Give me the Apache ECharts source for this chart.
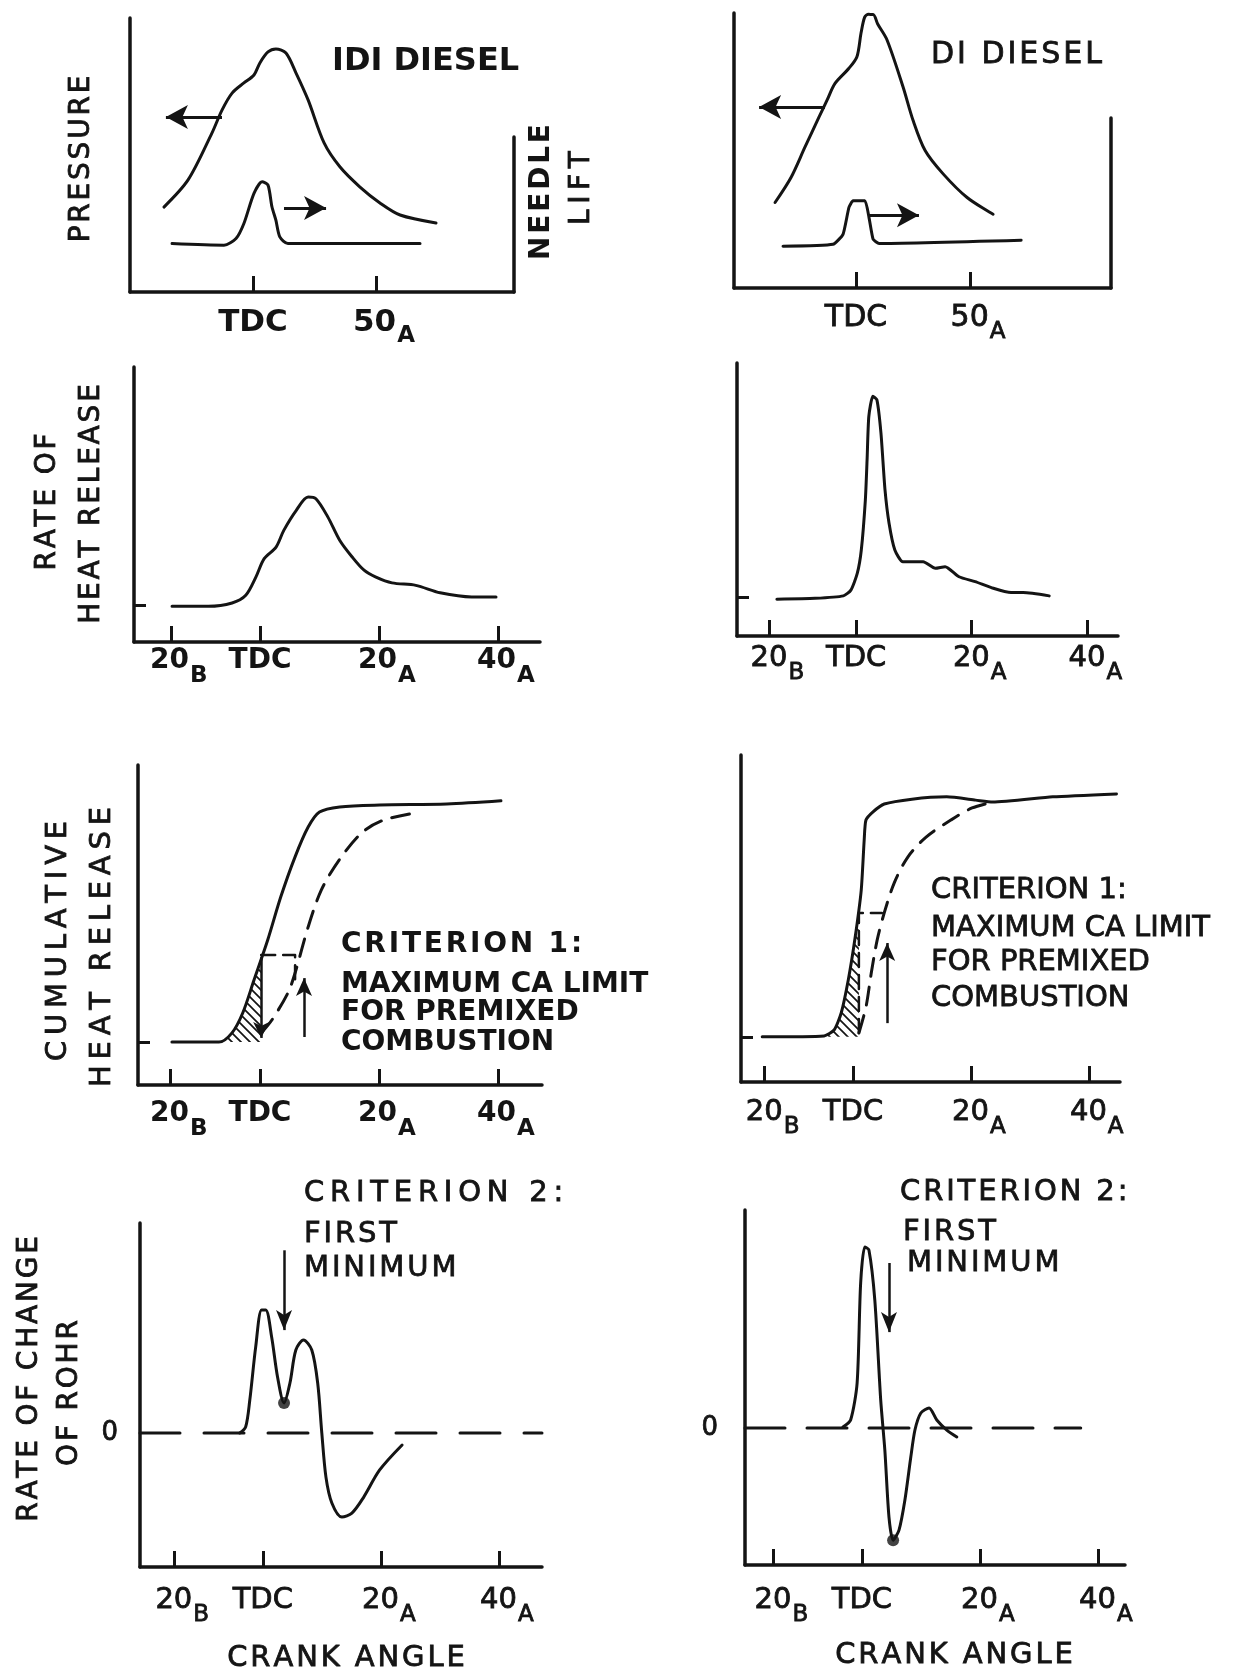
<!DOCTYPE html>
<html>
<head>
<meta charset="utf-8">
<title>IDI and DI diesel: heat release criteria</title>
<script src="https://cdn.jsdelivr.net/npm/echarts@6.0.0/dist/echarts.min.js"></script>
<style>
html, body { margin: 0; padding: 0; background: #fff; }
#chart { width: 1254px; height: 1678px; }
</style>
</head>
<body>
<div id="chart"></div>
<script>
// crank angle in degrees (negative = before TDC), values in relative units (axis = 0..100)

// tick labels
var angleTicks = [-15, 0, 20, 40];
var angleTickText = ['20', 'TDC', '20', '40'];
var angleTickSub = ['B', '', 'A', 'A'];
var pressTicks = [0, 50];
var pressTickText = ['TDC', '50'];
var pressTickSub = ['', 'A'];

// row 1: cylinder pressure and needle lift
var idiPressure = [[-36.2, 31.0], [-26.4, 40.9], [-16.7, 58.0], [-12.6, 66.4], [-8.5, 72.6], [-3.7, 76.3], [0.4, 79.2], [2.8, 83.6], [6.1, 87.6], [9.3, 88.7], [13.4, 87.2], [17.5, 79.9], [22.4, 70.1], [28.9, 54.4], [35.4, 45.6], [43.5, 38.3], [51.6, 32.5], [59.8, 28.1], [74.4, 25.2]];
var idiNeedle = [[-32.9, 17.7], [-11.8, 17.1], [-6.9, 19.5], [-3.7, 25], [0.4, 36], [3.7, 40.2], [6.1, 39], [7.7, 31.1], [9.3, 26.2], [10.9, 20.1], [14.2, 17.7], [67.9, 17.7]];
var diPressure = [[-35.5, 31.1], [-28.5, 40.2], [-22.4, 51.2], [-16.2, 62.2], [-12.7, 68.3], [-9.2, 74.4], [-3.1, 79.9], [0.4, 84.1], [2.2, 92.7], [3.8, 98.5], [5.5, 99.5], [7.5, 99.5], [9.5, 96], [13.6, 90.2], [20.6, 73.2], [25, 61], [30.3, 50], [38.2, 41.5], [48.7, 32.9], [60.1, 26.8]];
var diNeedle = [[-32, 15.2], [-10.1, 15.9], [-5.7, 19.5], [-3.1, 29.3], [-1.3, 31.7], [3.9, 31.7], [5.7, 25.6], [7.5, 17.7], [10.1, 16.2], [72.4, 17.4]];
var needleAxisTop = [56.6, 61.8];
var idiPressArrows = [[[-12.6, 63.9], [-35.4, 63.9]], [[12.6, 30.7], [29.7, 30.7]]];
var diPressArrows = [[[-13.6, 65.8], [-42.5, 65.8]], [[5.7, 26.5], [27.6, 26.5]]];

// row 2: rate of heat release
var idiRohr = [[-14.8, 13], [-8.7, 13], [-4.7, 14.2], [-2.4, 17], [-0.7, 23.6], [0.7, 30.3], [2.7, 34.5], [4, 40.6], [6.1, 47.9], [8.1, 52.7], [9.4, 52.1], [11.4, 45.5], [13.4, 37], [15.5, 30.9], [17.5, 26.1], [19.5, 23.6], [22.2, 21.5], [26.2, 20.6], [30.3, 17.9], [35.6, 16.4], [39.7, 16.4]];
var diRohr = [[-13.7, 13.5], [-7.1, 13.8], [-2.2, 14.7], [-0.9, 16.8], [0.2, 22.9], [0.9, 31.5], [1.6, 49.8], [1.9, 64.5], [2.2, 80.4], [2.9, 87.8], [3.6, 86.5], [4.3, 74.3], [5, 53.5], [5.7, 41.3], [6.7, 31.5], [8.1, 27.2], [11.6, 27.2], [13.7, 24.8], [15.4, 25.4], [17.8, 21.7], [20.6, 19.9], [23.4, 17.7], [26.8, 15.9], [28.9, 15.9], [33.4, 14.7]];
var rohrBase = [13.5, 14.3];

// row 3: cumulative heat release (solid = actual, dashed = late curve)
var idiCum = [[-14.8, 13.4], [-6.9, 13.4], [-4.7, 16.3], [-2.9, 22.5], [-1.0, 32.8], [1.3, 45.3], [3.5, 58.8], [5.9, 71.3], [8.1, 80.6], [10, 85.3], [13.4, 86.9], [20.1, 87.5], [31.4, 87.8], [40.5, 88.8]];
var idiCumLate = [[0.2, 16.2], [2.0, 20.3], [4.7, 28.8], [5.9, 35], [8.1, 49.4], [10.3, 60.9], [13.3, 70.3], [17.1, 78.8], [20.8, 82.8], [26.9, 85.3]];
var idiHatch = [[-6.9, 13.4], [-4.7, 16.3], [-2.9, 22.5], [-1.0, 32.8], [0.2, 39.3]];
var idiBox = [[0.2, 40.6], [5.9, 40.6], [5.9, 32.8]];
var idiDown = [[0.2, 40], [0.2, 14.7]];
var idiUp = [[7.4, 15], [7.4, 33.4]];
var diCum = [[-15.4, 13.8], [-4.9, 14.1], [-3.2, 15.9], [-2.0, 21.1], [-0.8, 31.2], [0.3, 43.4], [1.4, 58.7], [1.9, 74], [2.2, 80.1], [3.4, 82.6], [5.3, 85], [10, 86.5], [15.9, 87.2], [20.8, 86.2], [23.7, 85.6], [33.9, 87.2], [44.7, 88.1]];
var diCumLate = [[1.0, 15], [2.2, 22.9], [3.1, 33.3], [4.1, 43.4], [5.3, 51.7], [7.0, 60.9], [9.3, 68.8], [12.4, 74.9], [16.6, 80.1], [20.2, 83.8], [23.7, 85.6]];
var diHatch = [[-4.9, 14.1], [-3.2, 15.9], [-2.0, 21.1], [-0.8, 31.2], [0.3, 43.4], [1.0, 52]];
var diBox = [[1.0, 15], [1.0, 51.7], [4.9, 51.7]];
var diUp = [[5.8, 18], [5.8, 42.5]];
var cumBase = [13.4, 13.8];

// row 4: rate of change of ROHR
var idiRate = [[-3.9, 0], [-2.9, 2.9], [-2.2, 15.7], [-1.2, 41], [-0.2, 58.6], [0.5, 58.6], [1.5, 45.7], [2.5, 26.7], [3.6, 14.3], [4.6, 23.8], [5.6, 39.5], [6.9, 44.3], [8.3, 39.5], [9.3, 23.8], [10, 0], [10.7, -21], [11.7, -33.3], [13.4, -40], [15.1, -38.1], [17.1, -30.5], [19.8, -17.6], [23.6, -5.7]];
var idiFirstMin = [3.6, 14.3];
var idiMinArrow = [[3.6, 87], [3.6, 49]];
var diRate = [[-3.2, 0.5], [-1.9, 3.7], [-0.8, 20.6], [-0.2, 66.5], [0.5, 83], [1.2, 81.7], [2.2, 58.7], [3.2, 12.8], [3.9, -10.1], [4.6, -40.8], [5.3, -51.4], [6.3, -46.8], [7.3, -33], [8.3, -13.3], [9, -0.9], [10, 6.9], [11.4, 9.2], [12.7, 3.7], [14.4, -0.9], [16.1, -4.1]];
var diFirstMin = [5.3, -51.4];
var diMinArrow = [[4.6, 75.7], [4.6, 44]];
var zeroLineEnd = [47.3, 37.1];

var INK = '#141414';
var FONT = '"DejaVu Sans", Verdana, sans-serif';

// panel frames: pixel boxes and axis ranges
var panels = [
    { left: 130, top: 18, width: 384, height: 274, x: [-50, 106.1], y: [0, 100], press: true, bold: true, tick: 31, gap: 15 },
    { left: 734, top: 13, width: 377, height: 275, x: [-53.5, 111.8], y: [0, 100], press: true, tick: 30, gap: 15 },
    { left: 134, top: 367, width: 406, height: 275, x: [-21.2, 47.1], y: [0, 100], base: rohrBase[0], bold: true, tick: 28, gap: 5 },
    { left: 737, top: 363, width: 381, height: 273, x: [-20.6, 45.3], y: [0, 100], base: rohrBase[1], tick: 29, gap: 8 },
    { left: 138, top: 765, width: 404, height: 320, x: [-20.5, 47.4], y: [0, 100], base: cumBase[0], bold: true, tick: 28, gap: 15 },
    { left: 741, top: 755, width: 379, height: 327, x: [-19, 45.3], y: [0, 100], base: cumBase[1], tick: 29, gap: 16 },
    { left: 140, top: 1223, width: 402, height: 344, x: [-20.8, 47.3], y: [-63.8, 100], zero: true, tick: 29, gap: 19, zgap: 22 },
    { left: 745, top: 1210, width: 380, height: 355, x: [-19.8, 44.6], y: [-62.8, 100], zero: true, tick: 29, gap: 21, zgap: 27 }
];

var grids = [], xAxes = [], yAxes = [], series = [];

panels.forEach(function (p, i) {
    var tv = p.press ? pressTicks : angleTicks;
    var tt = p.press ? pressTickText : angleTickText;
    var ts = p.press ? pressTickSub : angleTickSub;
    var fw = p.bold ? 'bold' : 'normal';
    var thick = p.bold ? 0 : 0.8;
    grids.push({ left: p.left, top: p.top, width: p.width, height: p.height, outerBoundsMode: 'none' });
    xAxes.push({
        gridIndex: i, type: 'value', min: p.x[0], max: p.x[1],
        axisLine: { onZero: false, lineStyle: { color: INK, width: 3.5 } },
        axisTick: { inside: true, length: 16, customValues: tv, lineStyle: { color: INK, width: 3 } },
        splitLine: { show: false },
        axisLabel: {
            customValues: tv, margin: p.gap, color: INK, fontFamily: FONT, fontSize: p.tick, fontWeight: fw,
            textBorderColor: INK, textBorderWidth: thick,
            formatter: function (v) {
                var k = tv.indexOf(v);
                if (k < 0) return '';
                return ts[k] ? '{n|' + tt[k] + '}{s|' + ts[k] + '}' : tt[k];
            },
            rich: {
                n: { fontFamily: FONT, fontSize: p.tick, fontWeight: fw, color: INK, textBorderColor: INK, textBorderWidth: thick, verticalAlign: 'top', padding: [0, 0, 0, 16] },
                s: { fontFamily: FONT, fontSize: 23, fontWeight: fw, color: INK, textBorderColor: INK, textBorderWidth: thick, verticalAlign: 'top', padding: [18, 0, 0, 1] }
            }
        }
    });
    yAxes.push({
        gridIndex: i, type: 'value', min: p.y[0], max: p.y[1],
        axisLine: { show: true, onZero: false, lineStyle: { color: INK, width: 3.5 } },
        axisTick: { show: p.base != null, inside: true, length: 12, customValues: p.base != null ? [p.base] : [0], lineStyle: { color: INK, width: 3 } },
        axisLabel: { show: !!p.zero, customValues: [0], formatter: '0', margin: p.zgap || 22, color: INK, fontFamily: FONT, fontSize: 26, textBorderColor: INK, textBorderWidth: 0.8 },
        splitLine: { show: false }
    });
});

function curve(i, data, opt) {
    opt = opt || {};
    series.push({
        type: 'line', xAxisIndex: i, yAxisIndex: i, data: data, symbol: 'none', silent: true, clip: false,
        smooth: opt.smooth == null ? 0.3 : opt.smooth,
        lineStyle: { color: INK, width: opt.width || 3, type: opt.dash || 'solid', cap: 'round', join: 'round' },
        z: 3
    });
}
function arrow(i, seg, head, w) {
    series.push({
        type: 'line', xAxisIndex: i, yAxisIndex: i, data: seg, symbol: 'none', silent: true,
        lineStyle: { opacity: 0 },
        markLine: {
            silent: true, animation: false, symbol: ['none', 'arrow'], symbolSize: head || [16, 20],
            label: { show: false }, lineStyle: { color: INK, width: w || 3, type: 'solid' },
            data: [[{ coord: seg[0] }, { coord: seg[1] }]]
        }
    });
}
function dot(i, pt) {
    series.push({ type: 'scatter', xAxisIndex: i, yAxisIndex: i, data: [pt], symbol: 'circle', symbolSize: 12, silent: true, itemStyle: { color: INK }, z: 4 });
}
var hatchCanvas = (function () {
    var c = document.createElement('canvas');
    c.width = c.height = 9;
    var g = c.getContext('2d');
    g.strokeStyle = INK; g.lineWidth = 1.7;
    g.beginPath();
    g.moveTo(0, 0); g.lineTo(9, 9);
    g.moveTo(-3, 6); g.lineTo(3, 12);
    g.moveTo(6, -3); g.lineTo(12, 3);
    g.stroke();
    return c;
})();
function hatch(i, data, base) {
    series.push({
        type: 'line', xAxisIndex: i, yAxisIndex: i, data: data, symbol: 'none', silent: true, smooth: 0.3,
        lineStyle: { width: 0 },
        areaStyle: { origin: base, opacity: 1, color: { image: hatchCanvas, repeat: 'repeat' } },
        z: 2
    });
}

// row 1
curve(0, idiPressure);
curve(0, idiNeedle, { smooth: 0.25 });
idiPressArrows.forEach(function (a) { arrow(0, a, [18, 22]); });
curve(0, [[panels[0].x[1], 0], [panels[0].x[1], needleAxisTop[0]]], { width: 3.5, smooth: 0 });
curve(1, diPressure);
curve(1, diNeedle, { smooth: 0.15 });
diPressArrows.forEach(function (a) { arrow(1, a, [18, 22]); });
curve(1, [[panels[1].x[1], 0], [panels[1].x[1], needleAxisTop[1]]], { width: 3.5, smooth: 0 });

// row 2
curve(2, idiRohr);
curve(3, diRohr, { smooth: 0.2 });

// row 3
hatch(4, idiHatch, cumBase[0]);
curve(4, idiCum);
curve(4, idiCumLate, { dash: [18, 11] });
curve(4, idiBox, { dash: [14, 8], smooth: 0, width: 2.5 });
arrow(4, idiDown, [12, 16], 2.5);
arrow(4, idiUp, [12, 18], 2.5);
hatch(5, diHatch, cumBase[1]);
curve(5, diCum, { smooth: 0.2 });
curve(5, diCumLate, { dash: [18, 11] });
curve(5, diBox, { dash: [14, 8], smooth: 0, width: 2.5 });
arrow(5, diUp, [12, 18], 2.5);

// row 4
curve(6, [[panels[6].x[0], 0], [zeroLineEnd[0], 0]], { dash: [40, 24], smooth: 0 });
curve(6, idiRate, { smooth: 0.3 });
dot(6, idiFirstMin);
arrow(6, idiMinArrow, [12, 20], 2.5);
curve(7, [[panels[7].x[0], 0], [zeroLineEnd[1], 0]], { dash: [40, 22], smooth: 0 });
curve(7, diRate, { smooth: 0.25 });
dot(7, diFirstMin);
arrow(7, diMinArrow, [12, 20], 2.5);

// lettering
function spaced(s, gapPx, size) {
    var n = Math.round(gapPx / (0.1 * size));
    if (n <= 0) return s;
    return s.split('').join(new Array(n + 1).join('\u200A'));
}
var graphics = [];
function label(s, x, y, o) {
    o = o || {};
    var size = o.size || 29;
    graphics.push({
        type: 'text', x: x, y: y, rotation: o.rot ? Math.PI / 2 : 0, silent: true,
        style: {
            text: spaced(s, o.gap || 0, size), fill: INK, fontFamily: FONT, fontSize: size,
            fontWeight: o.bold ? 'bold' : 'normal',
            stroke: o.bold ? null : INK, lineWidth: o.bold ? 0 : 0.8,
            textAlign: o.align || 'left', textVerticalAlign: 'middle'
        }
    });
}
label('IDI DIESEL', 332, 62, { size: 32, bold: true });
label('DI DIESEL', 931, 55, { size: 30, gap: 3 });
label('PRESSURE', 82, 159, { size: 28, rot: true, align: 'center', gap: 4 });
label('NEEDLE', 542, 192, { size: 28, rot: true, align: 'center', bold: true, gap: 2 });
label('LIFT', 582, 188, { size: 28, rot: true, align: 'center', gap: 6 });
label('RATE OF', 48, 502, { size: 28, rot: true, align: 'center', gap: 4 });
label('HEAT RELEASE', 92, 504, { size: 28, rot: true, align: 'center', gap: 4 });
label('CUMULATIVE', 58, 941, { size: 29, rot: true, align: 'center', gap: 7 });
label('HEAT RELEASE', 102, 947, { size: 29, rot: true, align: 'center', gap: 5 });
label('RATE OF CHANGE', 30, 1379, { size: 28, rot: true, align: 'center', gap: 3 });
label('OF ROHR', 70, 1393, { size: 28, rot: true, align: 'center', gap: 4 });

label('CRITERION 1:', 341, 945, { size: 28, bold: true, gap: 2 });
label('MAXIMUM CA LIMIT', 341, 985, { size: 28, bold: true });
label('FOR PREMIXED', 341, 1013, { size: 28, bold: true });
label('COMBUSTION', 341, 1043, { size: 28, bold: true });
label('CRITERION 1:', 931, 890, { size: 29, gap: 1 });
label('MAXIMUM CA LIMIT', 931, 928, { size: 29 });
label('FOR PREMIXED', 931, 962, { size: 29 });
label('COMBUSTION', 931, 998, { size: 29 });

label('CRITERION 2:', 304, 1193, { size: 29, gap: 5 });
label('FIRST', 304, 1234, { size: 29, gap: 3 });
label('MINIMUM', 304, 1268, { size: 29, gap: 2 });
label('CRITERION 2:', 900, 1192, { size: 29, gap: 4 });
label('FIRST', 903, 1232, { size: 29, gap: 3 });
label('MINIMUM', 907, 1263, { size: 29, gap: 2 });

label('CRANK ANGLE', 346, 1658, { size: 29, align: 'center', gap: 3 });
label('CRANK ANGLE', 954, 1655, { size: 29, align: 'center', gap: 3 });

var chart = echarts.init(document.getElementById('chart'));
chart.setOption({
    backgroundColor: '#fff',
    animation: false,
    grid: grids,
    xAxis: xAxes,
    yAxis: yAxes,
    series: series,
    graphic: graphics
});
</script>
</body>
</html>
